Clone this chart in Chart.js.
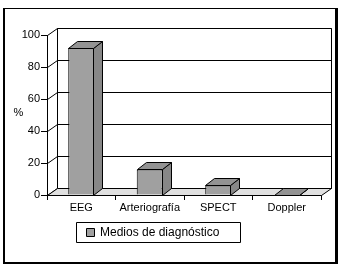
<!DOCTYPE html>
<html><head><meta charset="utf-8">
<script src="https://cdn.jsdelivr.net/npm/chart.js@4/dist/chart.umd.min.js"></script>
<style>html,body{margin:0;padding:0;background:#fff}</style>
</head><body>
<canvas id="c" width="342" height="270"></canvas>
<script>
const categories = ['EEG', 'Arteriografía', 'SPECT', 'Doppler'];
const values = [92, 16, 6, 0];
const yTicks = [0, 20, 40, 60, 80, 100];
const seriesLabel = 'Medios de diagnóstico';
const yAxisTitle = '%';

const FRONT = '#a0a0a0', TOP = '#939393', SIDE = '#878787', FLOOR = '#e0e0e0';
const WDX = 10, WDY = 7, BDX = 9, BDY = 7;

Chart.defaults.font.family = '"Liberation Sans", Arial, sans-serif';
Chart.defaults.font.size = 11;
Chart.defaults.color = '#000';

function poly(ctx, pts, fill) {
  ctx.beginPath();
  ctx.moveTo(pts[0][0], pts[0][1]);
  for (let i = 1; i < pts.length; i++) ctx.lineTo(pts[i][0], pts[i][1]);
  ctx.closePath();
  if (fill) { ctx.fillStyle = fill; ctx.fill(); }
  ctx.stroke();
}
function line(ctx, x1, y1, x2, y2) {
  ctx.beginPath(); ctx.moveTo(x1, y1); ctx.lineTo(x2, y2); ctx.stroke();
}

const threeD = {
  id: 'threeD',
  beforeDatasetsDraw(chart) {
    const ctx = chart.ctx, a = chart.chartArea, y = chart.scales.y;
    const L = a.left + 0.5, R = Math.round(a.right) + 0.5, T = Math.round(a.top) + 0.5, B = Math.round(a.bottom) + 0.5;
    ctx.save();
    ctx.lineWidth = 1; ctx.strokeStyle = '#000';
    ctx.fillStyle = '#fff';
    ctx.beginPath(); ctx.rect(L + WDX, T - WDY, R - L, B - T); ctx.fill(); ctx.stroke();
    yTicks.forEach(v => {
      const py = Math.round(y.getPixelForValue(v)) + 0.5;
      line(ctx, L + WDX, py - WDY, R + WDX, py - WDY);
      line(ctx, L, py, L + WDX, py - WDY);
    });
    poly(ctx, [[L, B], [R, B], [R + WDX, B - WDY], [L + WDX, B - WDY]], FLOOR);
    line(ctx, L, T, L, B);
    ctx.restore();
  },
  afterDatasetsDraw(chart) {
    const ctx = chart.ctx;
    const meta = chart.getDatasetMeta(0);
    ctx.save();
    ctx.lineWidth = 1; ctx.strokeStyle = '#000';
    meta.data.forEach(bar => {
      const p = bar.getProps(['x', 'y', 'base', 'width'], true);
      const l = Math.round(p.x - p.width / 2) + 0.5, r = Math.round(p.x + p.width / 2) - 0.5;
      const t = Math.round(p.y) + 0.5, b = Math.round(p.base) + 0.5;
      poly(ctx, [[r, t], [r + BDX, t - BDY], [r + BDX, b - BDY], [r, b]], SIDE);
      poly(ctx, [[l, t], [r, t], [r + BDX, t - BDY], [l + BDX, t - BDY]], TOP);
    });
    ctx.restore();
  },
  afterDraw(chart) {
    const ctx = chart.ctx, a = chart.chartArea;
    ctx.save();
    ctx.strokeStyle = '#000';
    // outer frame
    ctx.lineWidth = 1; line(ctx, 3, 8.5, 338, 8.5);
    ctx.lineWidth = 2; line(ctx, 4, 8, 4, 264);
    line(ctx, 3, 263, 338, 263);
    ctx.lineWidth = 3; line(ctx, 336.5, 8, 336.5, 264);
    // y title
    ctx.font = '11px "Liberation Sans", Arial, sans-serif';
    ctx.fillStyle = '#000'; ctx.textAlign = 'center'; ctx.textBaseline = 'middle';
    ctx.fillText(yAxisTitle, 18.5, (a.top + a.bottom) / 2 - 2);
    // legend
    ctx.lineWidth = 1;
    ctx.fillStyle = '#fff';
    ctx.beginPath(); ctx.rect(76.5, 222.5, 164, 20); ctx.fill(); ctx.stroke();
    ctx.beginPath(); ctx.rect(86.5, 228.5, 8, 8); ctx.fillStyle = FRONT; ctx.fill(); ctx.stroke();
    ctx.fillStyle = '#000'; ctx.textAlign = 'left';
    ctx.font = '12px "Liberation Sans", Arial, sans-serif';
    ctx.fillText(chart.data.datasets[0].label, 100, 233);
    ctx.restore();
  }
};

new Chart(document.getElementById('c'), {
  type: 'bar',
  data: {
    labels: categories,
    datasets: [{
      label: seriesLabel,
      data: values,
      backgroundColor: FRONT,
      borderColor: '#000',
      borderWidth: 1,
      barPercentage: 0.38,
      categoryPercentage: 1
    }]
  },
  options: {
    responsive: false,
    animation: false,
    devicePixelRatio: 1,
    layout: { padding: { top: 35, right: 21, left: 0, bottom: 0 } },
    plugins: { legend: { display: false }, tooltip: { enabled: false } },
    scales: {
      x: {
        grid: { drawOnChartArea: false, tickLength: 5, color: '#000', offset: true },
        border: { color: '#000' },
        ticks: { padding: 1, maxRotation: 0, autoSkip: false },
        afterFit(s) { s.height = 75; }
      },
      y: {
        min: 0, max: 100,
        afterBuildTicks(s) { s.ticks = yTicks.map(v => ({ value: v })); },
        grid: { drawOnChartArea: false, tickLength: 6, color: '#000' },
        border: { color: '#000' },
        ticks: { padding: 1 },
        afterFit(s) { s.width = 47; }
      }
    }
  },
  plugins: [threeD]
});
</script>
</body></html>
